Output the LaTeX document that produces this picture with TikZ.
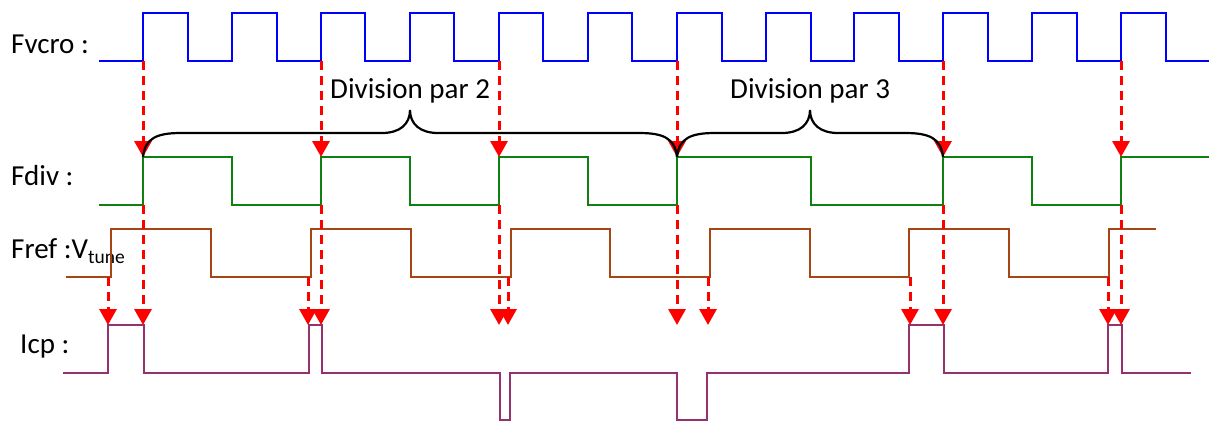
\documentclass[tikz,border=0pt]{standalone}
\usepackage{fontspec}
\setmainfont{Carlito}
\usetikzlibrary{arrows.meta}
\definecolor{cvcro}{RGB}{0,0,255}
\definecolor{cdiv}{RGB}{16,128,16}
\definecolor{cref}{RGB}{165,70,20}
\definecolor{cicp}{RGB}{150,48,110}
\definecolor{carrow}{RGB}{255,0,0}
\tikzset{
  sig/.style={line width=2pt, line join=miter},
  redarrow/.style={carrow, line width=3pt, dash pattern=on 9pt off 6pt, -{Triangle[width=17pt,length=16pt]}},
  bracestyle/.style={black, line width=2.2pt},
  lbl/.style={anchor=base west, inner sep=0pt, font=\fontsize{29}{31}\selectfont}
}
\begin{document}
\begin{tikzpicture}[x=1pt,y=-1pt]
\useasboundingbox (0,0) rectangle (1209,421);
% labels
\node[lbl] (lvcro) at (11,53) {Fvcro :};
\node[lbl] (ldiv) at (11,185) {Fdiv :};
\node[lbl] (lref) at (11,258) {Fref :V\raisebox{-5pt}{\fontsize{19.5}{20}\selectfont tune}};
\node[lbl] (licp) at (20,353) {Icp :};
\node[lbl] (ldiv2) at (330,98) {Division par 2};
\node[lbl] (ldiv3) at (730,98) {Division par 3};
% Fvcro
\draw[sig, cvcro] (99,61)
  -- (143,61) -- (143,13) -- (188,13) -- (188,61)
  -- (232,61) -- (232,13) -- (277,13) -- (277,61)
  -- (321,61) -- (321,13) -- (365,13) -- (365,61)
  -- (410,61) -- (410,13) -- (454,13) -- (454,61)
  -- (499,61) -- (499,13) -- (543,13) -- (543,61)
  -- (588,61) -- (588,13) -- (632,13) -- (632,61)
  -- (677,61) -- (677,13) -- (722,13) -- (722,61)
  -- (766,61) -- (766,13) -- (811,13) -- (811,61)
  -- (854,61) -- (854,13) -- (899,13) -- (899,61)
  -- (943,61) -- (943,13) -- (988,13) -- (988,61)
  -- (1032,61) -- (1032,13) -- (1077,13) -- (1077,61)
  -- (1121,61) -- (1121,13) -- (1166,13) -- (1166,61)
  -- (1209,61);
% Fdiv
\draw[sig, cdiv] (99,205)
  -- (143,205) -- (143,157) -- (232,157) -- (232,205)
  -- (321,205) -- (321,157) -- (410,157) -- (410,205)
  -- (499,205) -- (499,157) -- (588,157) -- (588,205)
  -- (677,205) -- (677,157) -- (811,157) -- (811,205)
  -- (943,205) -- (943,157) -- (1032,157) -- (1032,205)
  -- (1121,205) -- (1121,157) -- (1209,157);
% Fref
\draw[sig, cref] (66,277)
  -- (111,277) -- (111,229) -- (211,229) -- (211,277)
  -- (311,277) -- (311,229) -- (411,229) -- (411,277)
  -- (511,277) -- (511,229) -- (610,229) -- (610,277)
  -- (710,277) -- (710,229) -- (810,229) -- (810,277)
  -- (909,277) -- (909,229) -- (1009,229) -- (1009,277)
  -- (1109,277) -- (1109,229) -- (1156,229);
% Icp
\draw[sig, cicp] (63,373)
  -- (108,373) -- (108,325) -- (144,325) -- (144,373)
  -- (309,373) -- (309,325) -- (322,325) -- (322,373)
  -- (500,373) -- (500,420) -- (510,420) -- (510,373)
  -- (677,373) -- (677,420) -- (707,420) -- (707,373)
  -- (909,373) -- (909,325) -- (944,325) -- (944,373)
  -- (1108,373) -- (1108,325) -- (1122,325) -- (1122,373)
  -- (1191,373);
% red arrows
\foreach \x in {143,321,499,677,943,1121} {
  \coordinate (a\x) at (\x,61);
  \coordinate (b\x) at (\x,157);
  \coordinate (c\x) at (\x,205);
  \coordinate (d\x) at (\x,325);
  \draw[redarrow] (a\x) -- (b\x);
  \draw[redarrow] (c\x) -- (d\x);
}
\foreach \x in {108,308,508,708,910,1108} {
  \coordinate (e\x) at (\x,277);
  \coordinate (f\x) at (\x,325);
  \draw[redarrow] (e\x) -- (f\x);
}
% braces
\draw[bracestyle] (143,157) .. controls (145,138) and (157,133) .. (181,133)
  -- (382,133) .. controls (400,133) and (410,124) .. (410,110)
  .. controls (410,124) and (420,133) .. (438,133)
  -- (639,133) .. controls (663,133) and (675,138) .. (677,157);
\draw[bracestyle] (677,157) .. controls (679,138) and (691,133) .. (715,133)
  -- (782,133) .. controls (800,133) and (810,124) .. (810,110)
  .. controls (810,124) and (820,133) .. (838,133)
  -- (905,133) .. controls (929,133) and (941,138) .. (943,157);
\end{tikzpicture}
\end{document}
